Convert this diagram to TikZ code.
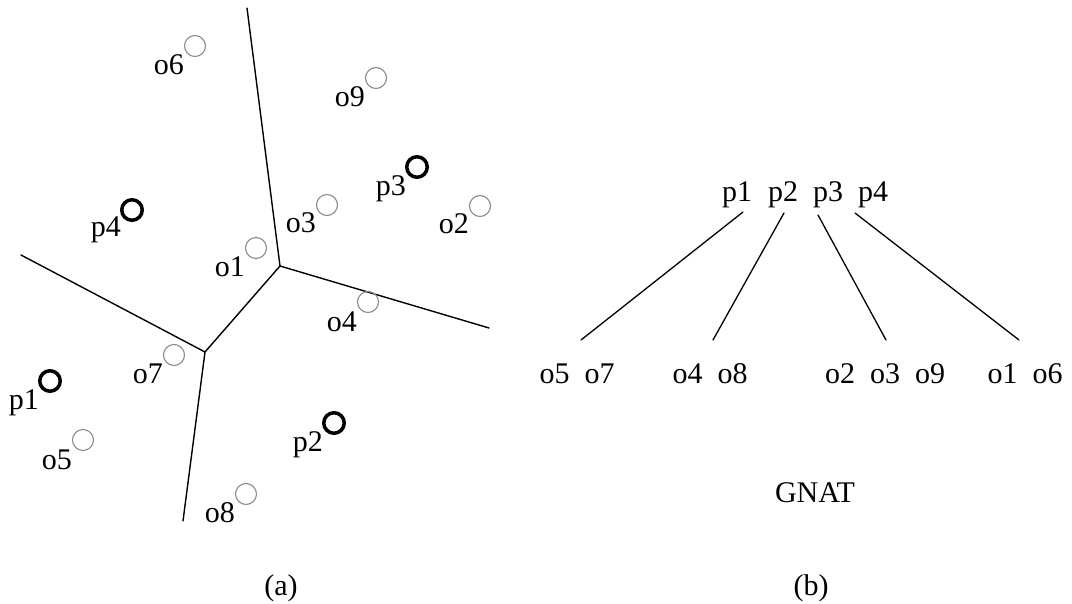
\documentclass[tikz,border=0pt]{standalone}
\usepackage{fontspec}
\setmainfont{Liberation Serif}
\begin{document}
\begin{tikzpicture}[x=1pt,y=-1pt,
  every node/.style={font=\fontsize{30}{36}\selectfont},
  ocirc/.style={circle, draw=black!45, line width=1.1pt, minimum size=21pt, inner sep=0pt},
  pcirc/.style={circle, draw=black, line width=3.5pt, minimum size=20.5pt, inner sep=0pt},
  lab/.style={anchor=base east, inner sep=0pt},
  txt/.style={anchor=base, inner sep=0pt},
  edge/.style={draw=black, line width=1.4pt, line cap=round, line join=round},
  branch/.style={draw=black, line width=1.3pt, line cap=round}]
\useasboundingbox (0,0) rectangle (1072,604);

% --- (a) partition of the space around the pivots ---
\coordinate (va) at (280,266);
\coordinate (vb) at (205,352);
\coordinate (vt) at (247,8);
\coordinate (vr) at (489,328);
\coordinate (vl) at (21,255);
\coordinate (vd) at (183,521);
\draw[edge] (vt) -- (va) -- (vr);
\draw[edge] (va) -- (vb);
\draw[edge] (vl) -- (vb) -- (vd);

% pivots
\node[pcirc] (p1) at (50,381) {};
\node[pcirc] (p2) at (334,423) {};
\node[pcirc] (p3) at (417,167) {};
\node[pcirc] (p4) at (132,210) {};
\node[lab] (lp1) at ([shift={(-11,28)}]p1.center) {p1};
\node[lab] (lp2) at ([shift={(-11,28)}]p2.center) {p2};
\node[lab] (lp3) at ([shift={(-11,29)}]p3.center) {p3};
\node[lab] (lp4) at ([shift={(-11,27)}]p4.center) {p4};

% objects
\node[ocirc] (o1) at (256,248) {};
\node[ocirc] (o2) at (480,206) {};
\node[ocirc] (o3) at (327,205) {};
\node[ocirc] (o4) at (368,302) {};
\node[ocirc] (o5) at (83,440) {};
\node[ocirc] (o6) at (195,46) {};
\node[ocirc] (o7) at (174,355) {};
\node[ocirc] (o8) at (246,494) {};
\node[ocirc] (o9) at (376,78) {};
\node[lab] (lo1) at ([shift={(-11,29)}]o1.center) {o1};
\node[lab] (lo2) at ([shift={(-11,28)}]o2.center) {o2};
\node[lab] (lo3) at ([shift={(-11,28)}]o3.center) {o3};
\node[lab] (lo4) at ([shift={(-11,29)}]o4.center) {o4};
\node[lab] (lo5) at ([shift={(-11,29)}]o5.center) {o5};
\node[lab] (lo6) at ([shift={(-11,29)}]o6.center) {o6};
\node[lab] (lo7) at ([shift={(-11,29)}]o7.center) {o7};
\node[lab] (lo8) at ([shift={(-11,28)}]o8.center) {o8};
\node[lab] (lo9) at ([shift={(-11,29)}]o9.center) {o9};

\node[txt] (capa) at (281,595) {(a)};

% --- (b) the GNAT node and its children ---
\node[txt] (r1) at (737,202) {p1};
\node[txt] (r2) at (783,202) {p2};
\node[txt] (r3) at (828,202) {p3};
\node[txt] (r4) at (873,202) {p4};

\node[txt] (g1) at (577,384) {o5\enspace o7};
\node[txt] (g2) at (710,384) {o4\enspace o8};
\node[txt] (g3) at (885,384) {o2\enspace o3\enspace o9};
\node[txt] (g4) at (1025,384) {o1\enspace o6};

\draw[branch] ([shift={(6,10)}]r1.base) -- ([shift={(4,-44)}]g1.base);
\draw[branch] ([shift={(1,11)}]r2.base) -- ([shift={(3,-44)}]g2.base);
\draw[branch] ([shift={(-10,13)}]r3.base) -- ([shift={(1,-44)}]g3.base);
\draw[branch] ([shift={(-18,11)}]r4.base) -- ([shift={(-6,-44)}]g4.base);

\node[txt] (gnat) at (815,502) {GNAT};
\node[txt] (capb) at (811,595) {(b)};
\end{tikzpicture}
\end{document}
